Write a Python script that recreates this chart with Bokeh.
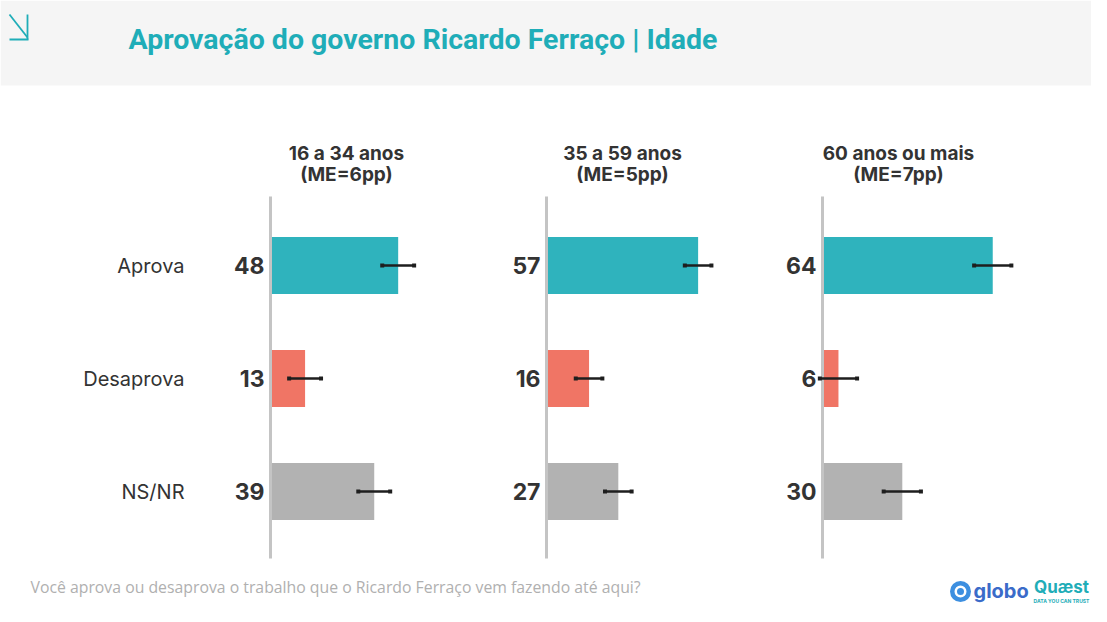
from bokeh.plotting import figure
from bokeh.models import Range1d, BoxAnnotation
from bokeh.core.properties import value
from bokeh.embed import file_html
from bokeh.resources import INLINE

# ---- data ----
groups = ["16 a 34 anos", "35 a 59 anos", "60 anos ou mais"]
group_me = ["(ME=6pp)", "(ME=5pp)", "(ME=7pp)"]
me = [6, 5, 7]
categories = ["Aprova", "Desaprova", "NS/NR"]
aprova = [48, 57, 64]
desaprova = [13, 16, 6]
nsnr = [39, 27, 30]
cat_colors = ["#2fb3bd", "#f07565", "#b2b2b2"]
title = "Aprovação do governo Ricardo Ferraço | Idade"
question = "Você aprova ou desaprova o trabalho que o Ricardo Ferraço vem fazendo até aqui?"

# ---- layout ----
W, H = 1091, 606
PX = 2.66            # pixels per percentage point
first_axis_px = 270  # x of first panel axis
panel_gap_px = 276
x_start = -first_axis_px / PX
x_end = x_start + W / PX
panel_gap = panel_gap_px / PX
row_y0, row_step, bar_h = 265, 113, 57


def px(x):
    return x_start + x / PX


p = figure(width=W, height=H, output_backend="svg", toolbar_location=None,
           x_range=Range1d(x_start, x_end), y_range=Range1d(H, 0),
           min_border=0)
p.axis.visible = False
p.grid.visible = False
p.outline_line_color = None
p.background_fill_color = "white"
p.border_fill_color = "white"

# header band
p.add_layout(BoxAnnotation(top=0, bottom=85, fill_color="#f5f5f5", fill_alpha=1,
                           line_color=None, level="underlay"))

# header icon (arrow)
teal = "#1fadb8"
p.segment(x0=[px(9)], y0=[14], x1=[px(27)], y1=[37], line_color=teal, line_width=1.8)
p.segment(x0=[px(9), px(27)], y0=[39, 14], x1=[px(28), px(27)], y1=[39, 39],
          line_color=teal, line_width=1.8)

# title
p.text(x=[px(128)], y=[39], text=[title], text_font=value("Roboto"),
       text_font_style="bold", text_font_size="28.5px", text_color=teal,
       text_baseline="middle", text_align="left")

vals = [aprova, desaprova, nsnr]
ys = [row_y0 + i * row_step for i in range(len(categories))]

for g, gname in enumerate(groups):
    base = g * panel_gap
    lefts, rights, tops, bottoms, cols, labs, e0, e1 = [], [], [], [], [], [], [], []
    for i, cat in enumerate(categories):
        v = vals[i][g]
        lefts.append(base)
        rights.append(base + v)
        tops.append(ys[i] - bar_h / 2)
        bottoms.append(ys[i] + bar_h / 2)
        cols.append(cat_colors[i])
        labs.append(str(v))
        e0.append(base + v - me[g])
        e1.append(base + v + me[g])
    p.quad(left=lefts, right=rights, top=tops, bottom=bottoms, fill_color=cols, line_color=None)
    # axis line
    p.segment(x0=[base], y0=[196], x1=[base], y1=[558], line_color="#c4c4c4", line_width=3)
    # error bars
    p.segment(x0=e0, y0=ys, x1=e1, y1=ys, line_color="#1e1e1e", line_width=2.5)
    p.scatter(x=e0 + e1, y=ys + ys, size=4, marker="square", fill_color="#1e1e1e", line_color=None)
    # value labels
    p.text(x=[base] * 3, y=ys, text=labs, x_offset=-6, text_align="right", text_baseline="middle",
           text_font=value("Inter"), text_font_style="bold", text_font_size="23px", text_color="#333333")
    # panel titles
    p.text(x=[base, base], y=[153, 174], text=[gname, group_me[g]], x_offset=76,
           text_align="center", text_baseline="middle", text_font=value("Inter"),
           text_font_style="bold", text_font_size="19px", text_color="#333333")

# category labels
p.text(x=[0] * 3, y=ys, text=categories, x_offset=-86, text_align="right", text_baseline="middle",
       text_font=value("Inter"), text_font_size="20px", text_color="#333333")

# footer question
p.text(x=[px(30)], y=[586], text=[question], text_align="left",
       text_baseline="middle", text_font=value("Open Sans"), text_font_size="15.8px",
       text_color="#b0b0b0")

# logos (approximate)
p.scatter(x=[px(960)], y=[591], size=21, marker="circle", fill_color="#3d8fe0", line_color=None)
p.scatter(x=[px(960)], y=[591], size=12, marker="circle", fill_color="white", line_color=None)
p.scatter(x=[px(960)], y=[591], size=7, marker="circle", fill_color="#3d8fe0", line_color=None)
p.text(x=[px(973)], y=[590], text=["globo"], text_align="left",
       text_baseline="middle", text_font=value("Inter"), text_font_style="bold",
       text_font_size="20px", text_color="#3a6bc9")
p.text(x=[px(1061)], y=[586], text=["Quæst"], text_align="center",
       text_baseline="middle", text_font=value("Inter"), text_font_style="bold",
       text_font_size="17px", text_color="#1fadb8")
p.text(x=[px(1061)], y=[600], text=["DATA YOU CAN TRUST"], text_align="center",
       text_baseline="middle", text_font=value("Inter"), text_font_style="bold",
       text_font_size="5px", text_color="#1fadb8")

open("out.html", "w").write(file_html(p, INLINE))
